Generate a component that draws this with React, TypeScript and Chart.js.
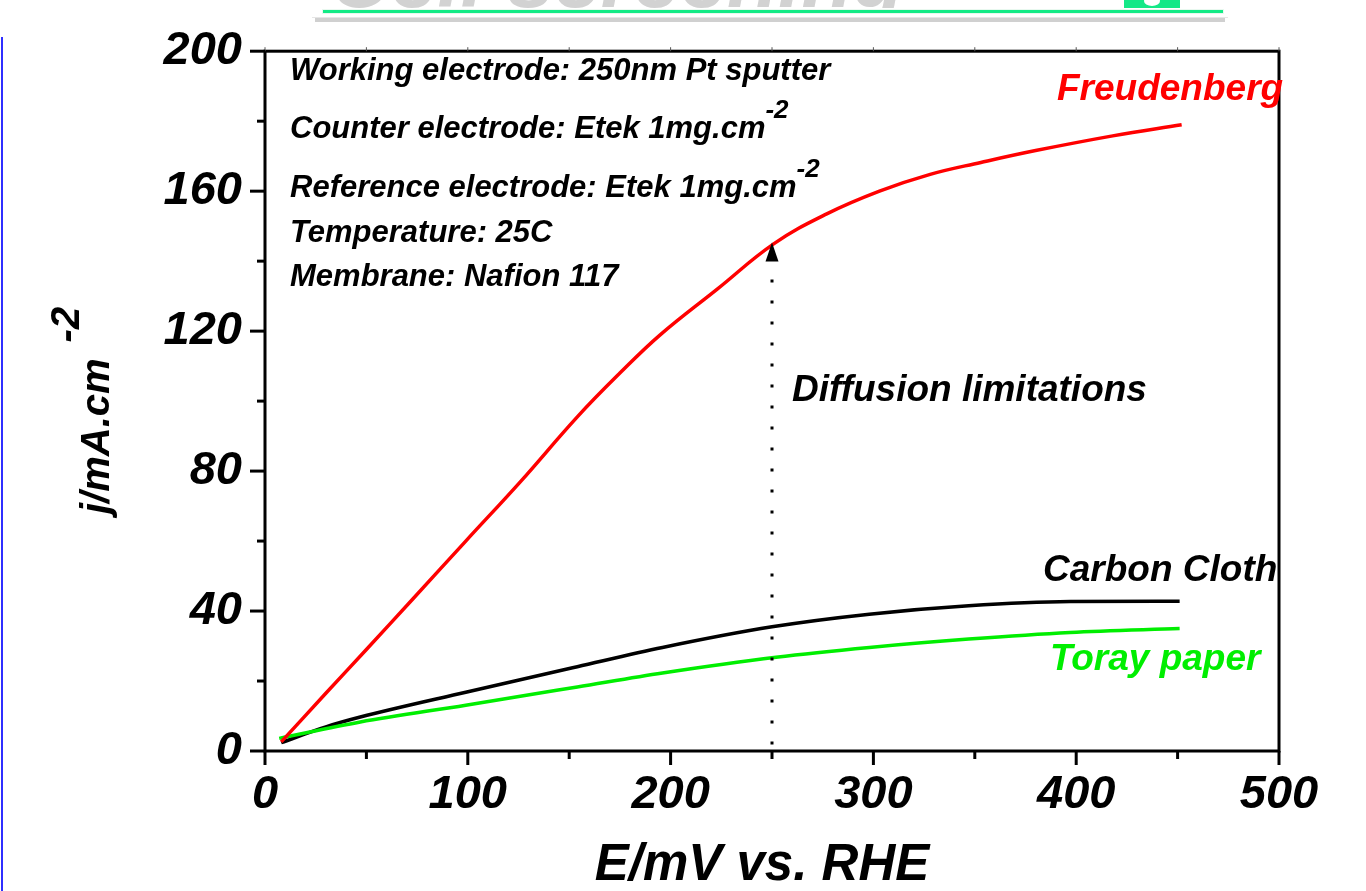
import React, { useEffect, useRef } from 'react';
import { Chart, registerables } from 'chart.js';

Chart.register(...registerables);

// ---- data ----
const freudenbergE = [8, 30, 50, 73, 99, 126, 154, 175, 195, 223, 251, 277, 303, 328, 353, 380, 418, 452];
const freudenbergJ = [2.6, 16.5, 29, 43.5, 60, 77, 95.5, 108, 119, 132, 145, 153.5, 160, 164.8, 168.2, 171.6, 175.8, 179];
const carbonClothE = [8, 30, 47, 99, 154, 196, 250, 298, 347, 397, 451];
const carbonClothJ = [2.4, 6.9, 9.7, 16.8, 24.1, 29.6, 35.5, 39.1, 41.5, 42.7, 42.8];
const torayE = [7, 47, 99, 154, 196, 252, 298, 347, 397, 451];
const torayJ = [3.6, 8.3, 13.1, 18.3, 22.3, 26.8, 29.6, 32, 33.9, 35];

const xMin = 0, xMax = 500, xMajorStep = 100, xMinorStep = 50;
const yMin = 0, yMax = 200, yMajorStep = 40, yMinorStep = 20;

const xTitle = 'E/mV vs. RHE';
const yTitle = 'j/mA.cm';
const yTitleSup = '-2';

const conditionLines = [
  'Working electrode: 250nm Pt sputter',
  'Counter electrode: Etek 1mg.cm',
  'Reference electrode: Etek 1mg.cm',
  'Temperature: 25C',
  'Membrane: Nafion 117',
];
const conditionSups = ['', '-2', '-2', '', ''];

const seriesNames = ['Freudenberg', 'Carbon Cloth', 'Toray paper'];
const diffusionLabel = 'Diffusion limitations';
const diffusionE = 250;
const diffusionArrowJ = 145.3;

const FAMILY = '"Liberation Sans", Arial, Helvetica, sans-serif';
const bi = (s: number) => `italic bold ${s}px ${FAMILY}`;

const pts = (xs: number[], ys: number[]) => xs.map((x, i) => ({ x, y: ys[i] }));

const overlay = {
  id: 'overlay',
  beforeDraw(chart: any) {
    const ctx = chart.ctx as CanvasRenderingContext2D;
    ctx.save();
    ctx.fillStyle = '#ffffff';
    ctx.fillRect(0, 0, chart.width, chart.height);
    // blue page edge
    ctx.fillStyle = '#2f2fff';
    ctx.fillRect(1, 37, 2, chart.height - 37);
    // banner (cropped logo at top)
    ctx.save();
    ctx.beginPath();
    ctx.rect(290, 0, 900, 8);
    ctx.clip();
    ctx.fillStyle = '#d2d2d2';
    ctx.font = bi(84);
    ctx.textBaseline = 'alphabetic';
    ctx.fillText('Cell screening', 330, 7);
    ctx.restore();
    ctx.fillStyle = '#d0d0d0';
    ctx.fillRect(315, 18, 910, 4);
    ctx.fillStyle = '#e6e6e6';
    ctx.fillRect(312, 17, 916, 1);
    ctx.fillStyle = '#14e887';
    ctx.fillRect(1124, 0, 56, 8);
    ctx.fillStyle = '#ffffff';
    ctx.beginPath();
    ctx.ellipse(1152, 1, 8, 5, 0, 0, Math.PI * 2);
    ctx.fill();
    ctx.fillStyle = '#e8f8ef';
    ctx.fillRect(322, 9, 902, 5);
    ctx.fillStyle = '#12ea85';
    ctx.fillRect(323, 10, 900, 3);
    ctx.restore();
  },
  afterDraw(chart: any) {
    const ctx = chart.ctx as CanvasRenderingContext2D;
    const a = chart.chartArea;
    const xs = chart.scales.x;
    const ys = chart.scales.y;
    ctx.save();
    ctx.strokeStyle = '#000';
    ctx.fillStyle = '#000';

    // frame
    ctx.lineWidth = 3;
    ctx.strokeRect(a.left, a.top, a.right - a.left, a.bottom - a.top);

    // x ticks
    for (let v = xMin; v <= xMax; v += xMinorStep) {
      const px = xs.getPixelForValue(v);
      const major = v % xMajorStep === 0;
      ctx.lineWidth = 3;
      ctx.beginPath();
      ctx.moveTo(px, a.bottom);
      ctx.lineTo(px, a.bottom + (major ? 14 : 8));
      ctx.stroke();
      ctx.lineWidth = 1;
      ctx.strokeStyle = '#555';
      ctx.beginPath();
      ctx.moveTo(px, a.top);
      ctx.lineTo(px, a.top - 4);
      ctx.stroke();
      ctx.strokeStyle = '#000';
    }
    // y ticks
    for (let v = yMin; v <= yMax; v += yMinorStep) {
      const py = ys.getPixelForValue(v);
      const major = v % yMajorStep === 0;
      ctx.lineWidth = 3;
      ctx.beginPath();
      ctx.moveTo(a.left, py);
      ctx.lineTo(a.left - (major ? 15 : 8), py);
      ctx.stroke();
    }

    // conditions text
    ctx.textBaseline = 'alphabetic';
    ctx.textAlign = 'left';
    const baselines = [80, 138, 197, 242, 286];
    conditionLines.forEach((t, i) => {
      ctx.font = bi(31);
      ctx.fillText(t, 290, baselines[i]);
      if (conditionSups[i]) {
        const w = ctx.measureText(t).width;
        ctx.font = bi(26);
        ctx.fillText(conditionSups[i], 290 + w, baselines[i] - 20);
      }
    });

    // series labels
    ctx.font = bi(37);
    ctx.fillStyle = '#ff0000';
    ctx.fillText(seriesNames[0], 1057, 100);
    ctx.fillStyle = '#000000';
    ctx.fillText(seriesNames[1], 1043, 581);
    ctx.fillStyle = '#00ee00';
    ctx.fillText(seriesNames[2], 1050, 670);
    ctx.fillStyle = '#000000';
    ctx.fillText(diffusionLabel, 792, 401);

    // dotted line + arrow
    const dx = xs.getPixelForValue(diffusionE);
    const tip = ys.getPixelForValue(diffusionArrowJ);
    ctx.lineWidth = 3;
    ctx.setLineDash([3, 18]);
    ctx.beginPath();
    ctx.moveTo(dx, tip + 37);
    ctx.lineTo(dx, a.bottom);
    ctx.stroke();
    ctx.setLineDash([]);
    ctx.beginPath();
    ctx.moveTo(dx, tip);
    ctx.lineTo(dx + 6.5, tip + 19);
    ctx.lineTo(dx - 6.5, tip + 19);
    ctx.closePath();
    ctx.fill();

    // axis titles
    ctx.font = bi(51);
    ctx.textAlign = 'center';
    ctx.fillText(xTitle, 762, 880);

    ctx.save();
    ctx.translate(109, 514);
    ctx.rotate(-Math.PI / 2);
    ctx.textAlign = 'left';
    ctx.font = bi(40);
    ctx.fillText(yTitle, 0, 0);
    const w = ctx.measureText(yTitle).width;
    ctx.fillText(yTitleSup, w + 16, -30);
    ctx.restore();

    ctx.restore();
  },
};

export default function App() {
  const ref = useRef<HTMLCanvasElement | null>(null);
  useEffect(() => {
    if (!ref.current) return;
    const chart = new Chart(ref.current, {
      type: 'scatter',
      data: {
        datasets: [
          {
            label: seriesNames[0],
            data: pts(freudenbergE, freudenbergJ),
            showLine: true,
            borderColor: '#ff0000',
            borderWidth: 3.5,
            pointRadius: 0,
            tension: 0.4,
            order: 0,
          },
          {
            label: seriesNames[1],
            data: pts(carbonClothE, carbonClothJ),
            showLine: true,
            borderColor: '#000000',
            borderWidth: 3.5,
            pointRadius: 0,
            cubicInterpolationMode: 'monotone',
            order: 2,
          },
          {
            label: seriesNames[2],
            data: pts(torayE, torayJ),
            showLine: true,
            borderColor: '#00ee00',
            borderWidth: 3.5,
            pointRadius: 0,
            cubicInterpolationMode: 'monotone',
            order: 1,
          },
        ],
      },
      options: {
        responsive: false,
        animation: false,
        devicePixelRatio: 1,
        layout: { padding: { left: 0, top: 47, right: 87, bottom: 0 } },
        plugins: {
          legend: { display: false },
          tooltip: { enabled: false },
        },
        scales: {
          x: {
            type: 'linear',
            min: xMin,
            max: xMax,
            grid: { display: true, drawOnChartArea: false, drawTicks: false },
            border: { display: false },
            ticks: {
              stepSize: xMajorStep,
              padding: 16,
              color: '#000',
              font: { family: FAMILY, size: 47, style: 'italic', weight: 'bold' },
              maxRotation: 0,
              autoSkip: false,
            },
            afterFit: (s: any) => {
              s.height = 140;
            },
          },
          y: {
            type: 'linear',
            min: yMin,
            max: yMax,
            grid: { display: true, drawOnChartArea: false, drawTicks: false },
            border: { display: false },
            ticks: {
              stepSize: yMajorStep,
              padding: 23,
              color: '#000',
              font: { family: FAMILY, size: 47, style: 'italic', weight: 'bold' },
              autoSkip: false,
            },
            afterFit: (s: any) => {
              s.width = 265;
            },
          },
        },
      },
      plugins: [overlay],
    } as any);
    return () => chart.destroy();
  }, []);
  return (
    <div style={{ position: 'absolute', left: 0, top: 0, width: 1366, height: 891, background: '#fff' }}>
      <canvas ref={ref} width={1366} height={891} style={{ display: 'block' }} />
    </div>
  );
}
